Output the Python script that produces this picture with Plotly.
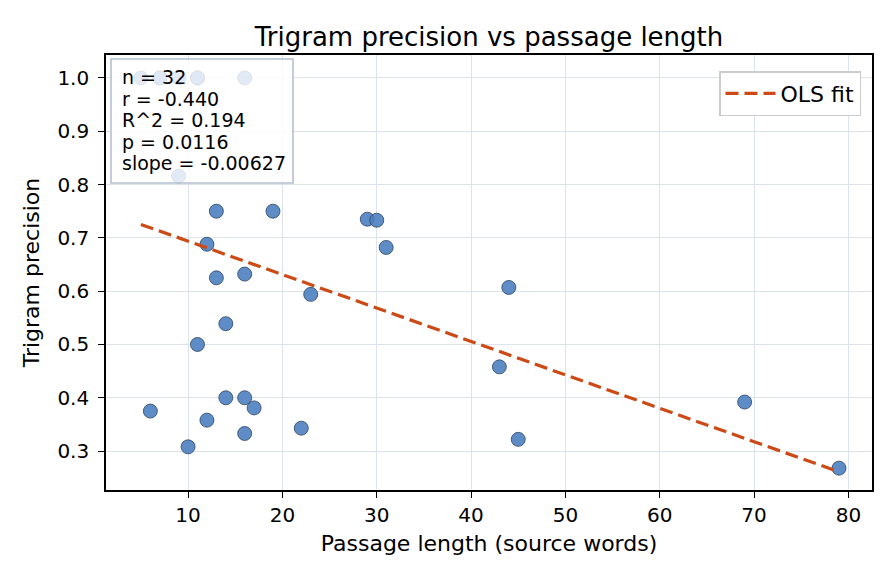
import plotly.graph_objects as go

# Data
passage_length = [5, 7, 9, 11, 11, 16, 9, 13, 19, 12, 13, 16, 14, 11, 23, 29, 30, 31,
                  44, 43, 45, 69, 79, 6, 10, 12, 14, 16, 17, 16, 22, 7]
trigram_precision = [1.0, 1.0, 1.0, 1.0, 1.0, 1.0, 0.816, 0.75, 0.75, 0.688, 0.625, 0.632,
                     0.539, 0.5, 0.594, 0.735, 0.733, 0.682, 0.607, 0.458, 0.322, 0.392,
                     0.268, 0.375, 0.308, 0.358, 0.4, 0.4, 0.381, 0.333, 0.343, 1.0]

fit_slope = -0.00627
fit_intercept = 0.7565
fit_x = [min(passage_length), max(passage_length)]
fit_y = [fit_intercept + fit_slope * v for v in fit_x]

stats_lines = ["n = 32", "r = -0.440", "R^2 = 0.194", "p = 0.0116", "slope = -0.00627"]

FONT = "DejaVu Sans"

# plot area in pixels: x 106..872, y 55..490
L, R, T, B = 106, 872, 55, 490
W, H = R - L, B - T

def px(x):
    return (x - L) / W

def py(y):
    return (B - y) / H

fig = go.Figure()
fig.add_trace(go.Scatter(
    x=passage_length, y=trigram_precision, mode="markers", showlegend=False,
    marker=dict(size=14, color="rgba(76,128,192,0.9)",
                line=dict(color="#2e4560", width=0.8)),
))
fig.add_trace(go.Scatter(
    x=fit_x, y=fit_y, mode="lines", name="OLS fit",
    line=dict(color="#cc4a16", width=3.2, dash="13px,6px"),
))

# stats box
fig.add_shape(type="rect", xref="paper", yref="paper", layer="above",
              x0=px(111), x1=px(293), y0=py(183), y1=py(59),
              fillcolor="rgba(255,255,255,0.82)",
              line=dict(color="#b4c0d0", width=1.6))
for i, line in enumerate(stats_lines):
    fig.add_annotation(
        xref="paper", yref="paper", x=px(120), y=py(77 + 21.6 * i),
        xanchor="left", yanchor="middle", text=line, showarrow=False,
        font=dict(family=FONT, size=19, color="black"),
    )

axis_common = dict(
    showline=True, linecolor="black", linewidth=1.6, mirror=True,
    ticks="outside", ticklen=6, tickcolor="black", tickwidth=1.3,
    showgrid=True, gridcolor="#dde3ec", gridwidth=1.2, zeroline=False,
    tickfont=dict(family=FONT, size=20, color="black"),
)

fig.update_layout(
    width=896, height=584,
    margin=dict(l=L, r=896 - R, t=T, b=584 - B),
    paper_bgcolor="white", plot_bgcolor="white",
    font=dict(family=FONT, color="black"),
    title=dict(text="Trigram precision vs passage length", xref="paper", x=0.5,
               xanchor="center", y=1 - 37 / 584, yanchor="middle",
               font=dict(family=FONT, size=26, color="black")),
    xaxis=dict(axis_common, range=[1.3, 82.5], tickvals=[10, 20, 30, 40, 50, 60, 70, 80],
               title=dict(text="Passage length (source words)", standoff=10,
                          font=dict(family=FONT, size=22))),
    yaxis=dict(axis_common, range=[0.227, 1.043], ticklabelstandoff=5,
               tickvals=[0.3, 0.4, 0.5, 0.6, 0.7, 0.8, 0.9, 1.0], tickformat=".1f",
               title=dict(text="Trigram precision", standoff=12,
                          font=dict(family=FONT, size=22))),
    legend=dict(x=px(861), y=py(71), xanchor="right", yanchor="top",
                bgcolor="rgba(255,255,255,0.9)", bordercolor="#cccccc", borderwidth=1.5,
                itemwidth=50, font=dict(family=FONT, size=22)),
)

fig.write_html("out.html")
